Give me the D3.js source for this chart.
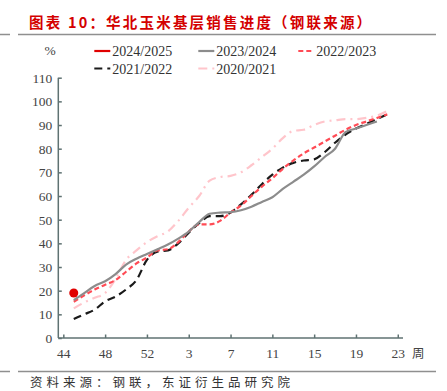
<!DOCTYPE html>
<html lang="zh">
<head>
  <meta charset="utf-8">
  <title></title>
  <script src="https://d3js.org/d3.v7.min.js"></script>
</head>
<style>
body { margin: 0; background: white; }
.title {
  font-family: "Noto Sans CJK SC", sans-serif;
  font-size: 14.5px;
  font-weight: bold;
  letter-spacing: 2.2px;
  fill: #d40000;
}
.source {
  font-family: "Noto Sans CJK SC", sans-serif;
  font-size: 12.5px;
  letter-spacing: 4px;
  fill: #333;
}
.rule { stroke: #8f8f8f; stroke-width: 1.5; }
.tick-label {
  font-family: "Liberation Serif", serif;
  font-size: 13.5px;
  fill: #444;
}
.legend-label {
  font-family: "Liberation Serif", serif;
  font-size: 14px;
  fill: #333;
}
.axis-line { stroke: #5f7272; stroke-width: 1.5; }
.series { fill: none; stroke-width: 2.2; }
</style>
<body>
  <div class="chart"></div>

  <script type="text/javascript">
  // week categories on the x axis (2020 had week 53)
  var weeks = [44, 45, 46, 47, 48, 49, 50, 51, 52, 53, 1, 2, 3, 4, 5, 6, 7, 8, 9, 10,
               11, 12, 13, 14, 15, 16, 17, 18, 19, 20, 21, 22, 23];
  var xTickWeeks = [44, 48, 52, 3, 7, 11, 15, 19, 23];
  var yTicks = [0, 10, 20, 30, 40, 50, 60, 70, 80, 90, 100, 110];

  var seriesNames = ["2024/2025", "2023/2024", "2022/2023", "2021/2022", "2020/2021"];

  var s2425 = [null, 19];
  var s2324 = [null, 16, 19, 22, 24, 27, 31, 33.5, 35.5, 37.5, 39.5, 42, 45, 49, 52.5, 53, 53.2,
               54, 55.5, 57.5, 59.5, 63, 66, 69, 72.5, 76.5, 80, 87, 88.5, 90, 91.5];
  var s2223 = [null, 15.3, 18, 20.5, 22.5, 24.5, 28, 31.5, 34, 37, 37.5, 40.5, 45, 48, 48, 49.5,
               53, 56, 60, 64, 67.5, 71.5, 75, 78, 80.5, 83, 85.5, 88, 90, 91.5, 93, 94.5];
  var s2122 = [null, 8, 10, 12, 15.5, 17.5, 20.5, 24.5, 33, 36.5, 37, 40, 44.5, 48.5, 51.5, 51.5,
               53, 56.5, 60.5, 65, 69, 72, 74, 75, 75.5, 78.5, 82.5, 86, 88.5, 90.5, 92.5, 94.5];
  var s2021 = [null, 12.5, 15, 17, 19, 25, 33, 37, 40.5, 43, 45, 49.5, 55, 60, 66.5, 68, 68.5,
               70, 73, 76.5, 80, 84.5, 87.5, 88, 90, 91.5, 92, 92.5, 92.5, 93, 94, 96];

  var width = 447, height = 391;

  var styles = [
    {color: "#e00000", dash: null, width: 2.2},
    {color: "#8c8c8c", dash: null, width: 2.2},
    {color: "#ff4b55", dash: "5,3", width: 2.4},
    {color: "#1a1a1a", dash: "8,5", width: 2.4},
    {color: "#ffc5cb", dash: "9,5,2,5", width: 2.2}
  ];
  var allSeries = [s2425, s2324, s2223, s2122, s2021];

  var svg = d3.select(".chart")
    .append("svg")
    .attr("width", width)
    .attr("height", height);

  // title + rules
  svg.append("text")
    .attr("class", "title")
    .attr("x", 29)
    .attr("y", 28)
    .text("图表 10：华北玉米基层销售进度（钢联来源）");

  svg.append("line").attr("class", "rule").attr("x1", 0).attr("x2", 10).attr("y1", 34.5).attr("y2", 34.5);
  svg.append("line").attr("class", "rule").attr("x1", 18).attr("x2", 436).attr("y1", 34.5).attr("y2", 34.5);
  svg.append("line").attr("class", "rule").attr("x1", 0).attr("x2", 10).attr("y1", 371.5).attr("y2", 371.5);
  svg.append("line").attr("class", "rule").attr("x1", 18).attr("x2", 436).attr("y1", 371.5).attr("y2", 371.5);

  svg.append("text")
    .attr("class", "source")
    .attr("x", 30)
    .attr("y", 387)
    .text("资料来源：钢联，东证衍生品研究院");

  // scales
  var x = d3.scaleLinear().domain([-0.48, 32.5]).range([58.3, 403]);
  var y = d3.scaleLinear().domain([0, 110]).range([338, 77.7]);

  // axes
  var yAxis = d3.axisLeft(y).tickValues(yTicks).tickSize(-3.5).tickPadding(6);
  var gy = svg.append("g").attr("transform", "translate(58.3,0)").call(yAxis);
  gy.select(".domain").remove();
  gy.selectAll("line").attr("class", "axis-line");
  gy.selectAll("text").attr("class", "tick-label").attr("font-family", null).attr("font-size", null);

  var xAxis = d3.axisBottom(x)
    .tickValues(xTickWeeks.map(function(w) { return weeks.indexOf(w); }))
    .tickFormat(function(i) { return weeks[i]; })
    .tickSize(-3.5)
    .tickPadding(10);
  var gx = svg.append("g").attr("transform", "translate(0,338)").call(xAxis);
  gx.select(".domain").remove();
  gx.selectAll("line").attr("class", "axis-line");
  gx.selectAll("text").attr("class", "tick-label").attr("font-family", null).attr("font-size", null);

  svg.append("line").attr("class", "axis-line")
    .attr("x1", 58.3).attr("x2", 58.3).attr("y1", y(110)).attr("y2", 338);
  svg.append("line").attr("class", "axis-line")
    .attr("x1", 58.3).attr("x2", 403).attr("y1", 338).attr("y2", 338);

  svg.append("text")
    .attr("x", 412)
    .attr("y", 358)
    .attr("font-family", "Noto Sans CJK SC, sans-serif")
    .attr("font-size", "12.5px")
    .attr("fill", "#444")
    .text("周");

  svg.append("text")
    .attr("class", "tick-label")
    .attr("x", 50)
    .attr("y", 55)
    .attr("text-anchor", "middle")
    .text("%");

  // lines
  var line = d3.line()
    .defined(function(d) { return d != null; })
    .x(function(d, i) { return x(i); })
    .y(function(d) { return y(d); })
    .curve(d3.curveMonotoneX);

  for (var k = allSeries.length - 1; k >= 1; k--) {
    svg.append("path")
      .attr("class", "series")
      .attr("d", line(allSeries[k]))
      .attr("stroke", styles[k].color)
      .attr("stroke-width", styles[k].width)
      .attr("stroke-dasharray", styles[k].dash);
  }

  // 2024/2025 only has one point so far
  svg.selectAll(".dot")
    .data(s2425.map(function(v, i) { return {v: v, i: i}; }).filter(function(d) { return d.v != null; }))
    .enter()
    .append("circle")
    .attr("cx", function(d) { return x(d.i); })
    .attr("cy", function(d) { return y(d.v); })
    .attr("r", 4.5)
    .attr("fill", styles[0].color);

  // legend
  var legendPos = [
    {x: 94.3, y: 51},
    {x: 198.3, y: 51},
    {x: 298.3, y: 51},
    {x: 94.3, y: 68.5},
    {x: 198.3, y: 68.5}
  ];
  var legend = svg.selectAll(".legend")
    .data(seriesNames)
    .enter()
    .append("g")
    .attr("transform", function(d, i) { return "translate(" + legendPos[i].x + "," + legendPos[i].y + ")"; });
  legend.append("line")
    .attr("x1", 0).attr("x2", 16)
    .attr("y1", 0).attr("y2", 0)
    .attr("stroke", function(d, i) { return styles[i].color; })
    .attr("stroke-width", 2.2)
    .attr("stroke-dasharray", function(d, i) { return styles[i].dash; });
  legend.append("text")
    .attr("class", "legend-label")
    .attr("x", 18)
    .attr("y", 5)
    .text(function(d) { return d; });
  </script>
</body>
</html>
